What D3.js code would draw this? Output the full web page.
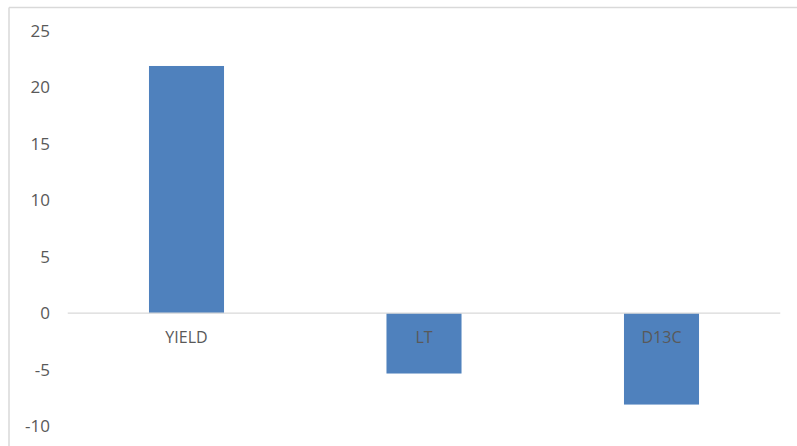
<!DOCTYPE html>
<html>
<head>
<meta charset="utf-8">
<script src="https://cdn.jsdelivr.net/npm/d3@7"></script>
<style>
  html, body { margin: 0; padding: 0; background: #fff; }
  svg { display: block; }
</style>
</head>
<body>
<script>
const categories = ["YIELD", "LT", "D13C"];
const values = [21.9, -5.35, -8.1];
const yTicks = [25, 20, 15, 10, 5, 0, -5, -10];

const W = 797, H = 446;
const svg = d3.select("body").append("svg").attr("width", W).attr("height", H);

// chart border (top and left visible)
svg.append("line").attr("x1", 9).attr("x2", W).attr("y1", 7.5).attr("y2", 7.5)
  .attr("stroke", "#d9d9d9").attr("stroke-width", 1.5);
svg.append("line").attr("x1", 9).attr("x2", 9).attr("y1", 7.5).attr("y2", H)
  .attr("stroke", "#d9d9d9").attr("stroke-width", 1.5);

const x = d3.scaleBand().domain(categories).range([67.75, 780.25]).paddingInner(0.684).paddingOuter(0.342);
const y = d3.scaleLinear().domain([-10, 25]).range([426, 31]);

const font = "'Open Sans', sans-serif";

// y tick labels
svg.append("g").selectAll("text").data(yTicks).join("text")
  .attr("x", 50).attr("y", d => y(d))
  .attr("dy", "0.35em")
  .attr("text-anchor", "end")
  .attr("font-family", font).attr("font-size", 17)
  .attr("fill", "#595959")
  .text(d => d);

// bars
svg.append("g").selectAll("rect").data(values).join("rect")
  .attr("x", (d, i) => x(categories[i]))
  .attr("width", x.bandwidth())
  .attr("y", d => Math.min(y(d), y(0)))
  .attr("height", d => Math.abs(y(d) - y(0)))
  .attr("fill", "#4f81bd");

// zero line
svg.append("line").attr("x1", 67.75).attr("x2", 780.25).attr("y1", y(0)).attr("y2", y(0))
  .attr("stroke", "#d9d9d9").attr("stroke-width", 1.2);

// category labels
svg.append("g").selectAll("text").data(categories).join("text")
  .attr("x", d => x(d) + x.bandwidth() / 2)
  .attr("y", y(0) + 24)
  .attr("dy", "0.35em")
  .attr("text-anchor", "middle")
  .attr("font-family", font).attr("font-size", 16)
  .attr("fill", "#595959")
  .text(d => d);
</script>
</body>
</html>
